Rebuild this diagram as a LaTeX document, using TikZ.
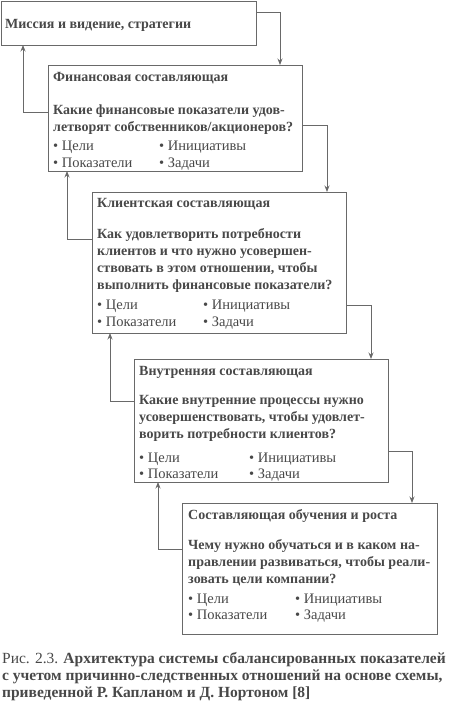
\documentclass[tikz,border=0pt]{standalone}
\usepackage{fontspec}
\setmainfont{Liberation Serif}
\usetikzlibrary{arrows.meta}
\definecolor{txt}{RGB}{72,72,72}
\definecolor{ln}{RGB}{105,105,105}
\begin{document}
\begin{tikzpicture}[x=1pt,y=-1pt,
  box/.style={draw=ln,line width=0.8pt,anchor=north west,inner sep=0pt,outer sep=0pt},
  tx/.style={anchor=base west,inner sep=0pt,text=txt,font=\fontsize{14.5}{17}\selectfont},
  tb/.style={anchor=base west,inner sep=0pt,text=txt,font=\fontsize{14}{17}\selectfont\bfseries},
  captxt/.style={anchor=base west,inner sep=0pt,text=txt,font=\fontsize{15.5}{17}\selectfont},
  capbold/.style={anchor=base west,inner sep=0pt,text=txt,font=\fontsize{15.5}{17}\selectfont\bfseries},
  arr/.style={draw=ln,line width=0.8pt,-{Stealth[length=6.5pt,width=5pt]}}]
\useasboundingbox (0,0) rectangle (450,707);
% boxes
\node[box,minimum width=255pt,minimum height=44pt] (b0) at (1,1) {};
\node[box,minimum width=254pt,minimum height=106pt] (b1) at (48,65) {};
\node[box,minimum width=254pt,minimum height=141pt] (b2) at (92,192) {};
\node[box,minimum width=254pt,minimum height=123pt] (b3) at (134,359) {};
\node[box,minimum width=255pt,minimum height=131pt] (b4) at (182,503) {};
% box 0
\node[tb] (t0) at (5,28) {Миссия и видение, стратегии};
% box 1
\node[tb] (t1) at (53,81) {Финансовая составляющая};
\node[tb] (q1a) at (53,114) {Какие финансовые показатели удов-};
\node[tb] (q1b) at (53,131) {летворят собственников/акционеров?};
\node[tx] (p1a) at (53,150) {• Цели};
\node[tx] (p1b) at (53,167) {• Показатели};
\node[tx] (p1c) at (159,150) {• Инициативы};
\node[tx] (p1d) at (159,167) {• Задачи};
% box 2
\node[tb] (t2) at (97,207) {Клиентская составляющая};
\node[tb] (q2a) at (97,238) {Как удовлетворить потребности};
\node[tb] (q2b) at (97,255) {клиентов и что нужно усовершен-};
\node[tb] (q2c) at (97,272) {ствовать в этом отношении, чтобы};
\node[tb] (q2d) at (97,289) {выполнить финансовые показатели?};
\node[tx] (p2a) at (97,309) {• Цели};
\node[tx] (p2b) at (97,326) {• Показатели};
\node[tx] (p2c) at (203,309) {• Инициативы};
\node[tx] (p2d) at (203,326) {• Задачи};
% box 3
\node[tb] (t3) at (139,375) {Внутренняя составляющая};
\node[tb] (q3a) at (139,404) {Какие внутренние процессы нужно};
\node[tb] (q3b) at (139,421) {усовершенствовать, чтобы удовлет-};
\node[tb] (q3c) at (139,438) {ворить потребности клиентов?};
\node[tx] (p3a) at (139,462) {• Цели};
\node[tx] (p3b) at (139,478) {• Показатели};
\node[tx] (p3c) at (249,462) {• Инициативы};
\node[tx] (p3d) at (249,478) {• Задачи};
% box 4
\node[tb] (t4) at (188,519) {Составляющая обучения и роста};
\node[tb] (q4a) at (188,549) {Чему нужно обучаться и в каком на-};
\node[tb] (q4b) at (188,566) {правлении развиваться, чтобы реали-};
\node[tb] (q4c) at (188,583) {зовать цели компании?};
\node[tx] (p4a) at (188,603) {• Цели};
\node[tx] (p4b) at (188,619) {• Показатели};
\node[tx] (p4c) at (295,603) {• Инициативы};
\node[tx] (p4d) at (295,619) {• Задачи};
% connectors down (right side)
\draw[arr] ([yshift=-11pt]b0.north east) -| ([xshift=-22pt]b1.north east);
\draw[arr] ([yshift=-60pt]b1.north east) -| ([xshift=-19pt]b2.north east);
\draw[arr] ([yshift=-113pt]b2.north east) -| ([xshift=-17pt]b3.north east);
\draw[arr] ([yshift=-92pt]b3.north east) -| ([xshift=-25pt]b4.north east);
% connectors up (left side)
\draw[arr] ([yshift=-47pt]b1.north west) -| ([xshift=22pt]b0.south west);
\draw[arr] ([yshift=-47pt]b2.north west) -| ([xshift=19pt]b1.south west);
\draw[arr] ([yshift=-42pt]b3.north west) -| ([xshift=18pt]b2.south west);
\draw[arr] ([yshift=-46pt]b4.north west) -| ([xshift=24pt]b3.south west);
% caption
\node[captxt] (c1) at (2,663) {Рис. 2.3. \textbf{Архитектура системы сбалансированных показателей}};
\node[capbold] (c2) at (2,680) {с учетом причинно-следственных отношений на основе схемы,};
\node[capbold] (c3) at (2,697) {приведенной Р. Капланом и Д. Нортоном [8]};
\end{tikzpicture}
\end{document}
